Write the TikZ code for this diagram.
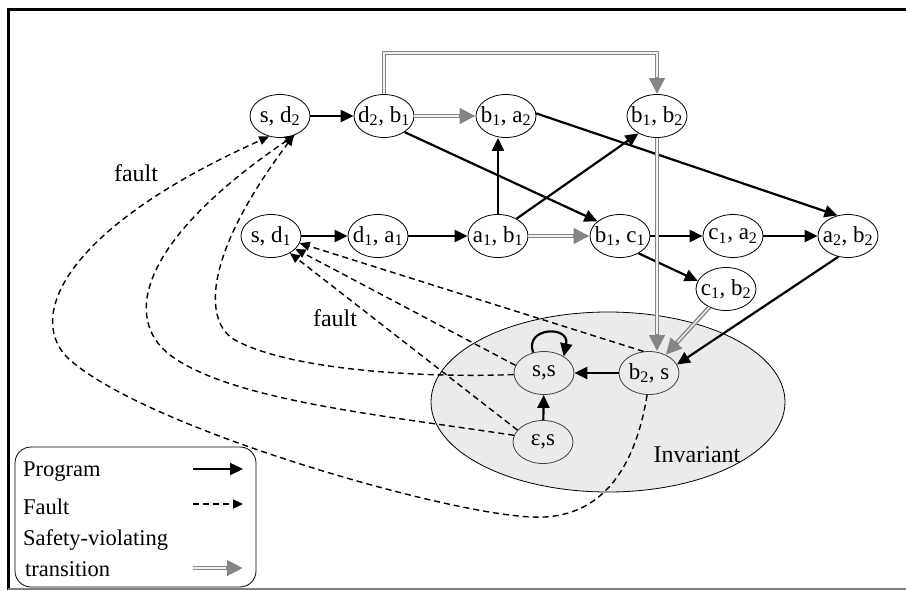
\documentclass[tikz,border=0pt]{standalone}
\usepackage{fontspec}
\setmainfont{Liberation Serif}
\usetikzlibrary{shapes.geometric,arrows.meta}
\begin{document}
\begin{tikzpicture}[x=1pt,y=-1pt,
  st/.style={ellipse, draw, line width=0.8pt, fill=white, minimum width=60pt, minimum height=43pt, inner xsep=-6pt, inner ysep=0pt, font=\fontsize{23}{25}\selectfont},
  sti/.style={st, fill=none, draw=black!75},
  prog/.style={line width=2.2pt, -{Triangle[length=13pt,width=12pt]}},
  fault/.style={line width=1.4pt, dash pattern=on 6pt off 4pt, -{Triangle[length=10pt,width=9pt]}},
  safe/.style={draw=black!48, line width=4.2pt, -{Triangle[length=16pt,width=15pt]},
    postaction={draw=black!6, line width=1.4pt, -, shorten >=17pt}},
  lbl/.style={font=\fontsize{24}{26}\selectfont, inner sep=0pt},
  legtxt/.style={font=\fontsize{22.5}{24}\selectfont, anchor=west, inner sep=0pt}
]
\useasboundingbox (0,0) rectangle (906,590);
% frame
\draw[line width=3pt] (8,590) -- (8,9) -- (906,9);
\draw[gray, line width=1.5pt] (8,589) -- (906,589);

% invariant region
\draw[fill=black!8, line width=0.8pt] (608,402) ellipse [x radius=177pt, y radius=90pt];
\node[lbl] (inv) at (697,455) {Invariant};

% states
\node[st] (sd2)  at (280,116) {s, d\textsubscript{2}};
\node[st] (d2b1) at (384,116) {d\textsubscript{2}, b\textsubscript{1}};
\node[st] (b1a2) at (506,116) {b\textsubscript{1}, a\textsubscript{2}};
\node[st] (b1b2) at (657,116) {b\textsubscript{1}, b\textsubscript{2}};
\node[st] (sd1)  at (271,236) {s, d\textsubscript{1}};
\node[st] (d1a1) at (378,236) {d\textsubscript{1}, a\textsubscript{1}};
\node[st] (a1b1) at (498,236) {a\textsubscript{1}, b\textsubscript{1}};
\node[st] (b1c1) at (620,236) {b\textsubscript{1}, c\textsubscript{1}};
\node[st] (c1a2) at (733,236) {c\textsubscript{1}, a\textsubscript{2}};
\node[st] (a2b2) at (848,236) {a\textsubscript{2}, b\textsubscript{2}};
\node[st] (c1b2) at (726,289) {c\textsubscript{1}, b\textsubscript{2}};
\node[sti] (ss)  at (544,373) {s,s};
\node[sti] (b2s) at (649,373) {b\textsubscript{2}, s};
\node[sti] (es)  at (543,442) {ε,s};

% fault labels
\node[lbl] (f1) at (136,173) {fault};
\node[lbl] (f2) at (335,318) {fault};

% program transitions
\draw[prog] (sd2) -- (d2b1);
\draw[prog] (d2b1.-38) -- (b1c1.147);
\draw[prog] (sd1) -- (d1a1);
\draw[prog] (d1a1) -- (a1b1);
\draw[prog] (a1b1.north) -- (a1b1.north |- b1a2.south);
\draw[prog] (a1b1.43) -- (b1b2.-137);
\draw[prog] (b1a2.5) -- (a2b2.117);
\draw[prog] (b1c1) -- (c1a2);
\draw[prog] (c1a2) -- (a2b2);
\draw[prog] (b1c1.-43) -- (c1b2.164);
\draw[prog] (a2b2.-115) -- (b2s.17);
\draw[prog] (b2s) -- (ss);
\draw[prog] (es) -- (ss);
\draw[prog] (ss.118) .. controls (524,327) and (570,325) .. (ss.40);

% safety-violating transitions
\coordinate (top) at (520,53);
\draw[safe] (d2b1) -- (b1a2);
\draw[safe] (a1b1) -- (b1c1);
\draw[safe] (d2b1.north) -- (d2b1.north |- top) -- (b1b2.north |- top) -- (b1b2.north);
\draw[safe] (b1b2.south) -- (b1b2.south |- b2s.north);
\draw[safe] (c1b2) -- (b2s);

% fault transitions
\draw[fault] (b2s.104) -- (sd1.-14);
\draw[fault] (ss.165) -- (sd1.-28);
\draw[fault] (es.155) -- (sd1.-42);
\draw[fault] (ss.183) .. controls (420,378) and (290,370) .. (235,340)
   .. controls (205,323) and (200,260) .. (sd2.-55);
\draw[fault] (es.167) .. controls (380,415) and (230,400) .. (170,355)
   .. controls (122,318) and (140,240) .. (sd2.-52);
\draw[fault] (b2s.-95) .. controls (635,470) and (600,520) .. (533,517)
   .. controls (450,515) and (150,430) .. (70,360)
   .. controls (25,320) and (60,230) .. (sd2.-118);

% legend
\draw[line width=0.8pt, rounded corners=16pt] (15,447) rectangle (256,587);
\node[legtxt] (lp) at (23,472) {Program};
\node[legtxt] (lf) at (23,507) {Fault};
\node[legtxt] (ls) at (23,540) {Safety-violating};
\node[legtxt] (lt) at (25,569) {transition};
\coordinate (p1) at (193,469); \coordinate (p2) at (243,469);
\coordinate (q1) at (193,504); \coordinate (q2) at (243,504);
\coordinate (r1) at (193,568); \coordinate (r2) at (243,568);
\draw[prog] (p1) -- (p2);
\draw[fault] (q1) -- (q2);
\draw[safe] (r1) -- (r2);
\end{tikzpicture}
\end{document}
